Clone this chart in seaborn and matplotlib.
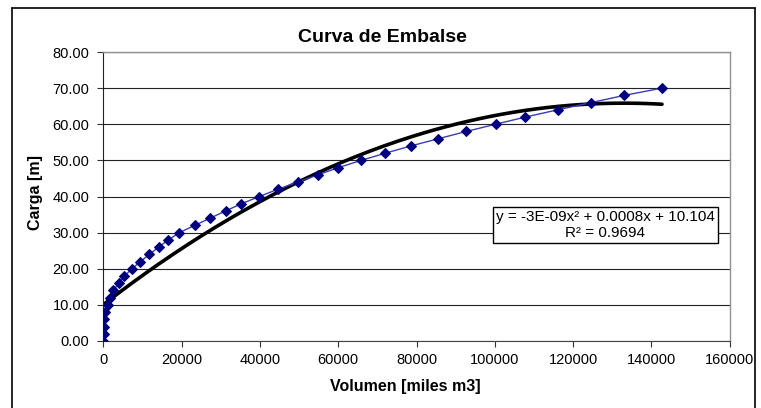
import matplotlib
matplotlib.use('Agg')
import matplotlib.pyplot as plt
import seaborn as sns
import pandas as pd
import numpy as np
from matplotlib.lines import Line2D

# Datos de la curva de embalse
volumen = [0, 50, 120, 250, 450, 1150, 1700, 2550, 3900, 5350, 7300,
           9450, 11750, 14100, 16600, 19400, 23300, 27250, 31200, 35250,
           39850, 44550, 49650, 54800, 60050, 65850, 72050, 78600, 85600,
           92700, 100200, 107850, 116100, 124650, 133150, 142750]
carga = list(range(0, 72, 2))

# Coeficientes de la linea de tendencia (polinomica orden 2)
coef_ajuste = [-3.15e-9, 0.000838, 10.104]

titulo = 'Curva de Embalse'
etiqueta_x = 'Volumen [miles m3]'
etiqueta_y = 'Carga [m]'
texto_ajuste = 'y = -3E-09x\u00b2 + 0.0008x + 10.104\nR\u00b2 = 0.9694'

df = pd.DataFrame({'volumen': volumen, 'carga': carga})
x_aj = np.linspace(0, max(volumen), 200)
df_aj = pd.DataFrame({'volumen': x_aj, 'carga': np.polyval(coef_ajuste, x_aj)})

sns.set_style('white')
plt.rcParams['font.family'] = ['Liberation Sans', 'DejaVu Sans']
plt.rcParams['text.color'] = 'black'
plt.rcParams['axes.labelcolor'] = 'black'
plt.rcParams['xtick.color'] = 'black'
plt.rcParams['ytick.color'] = 'black'

fig = plt.figure(figsize=(7.61, 4.08), dpi=100)
ax = fig.add_axes([103.5 / 761, 1 - 341 / 408, 626 / 761, 289 / 408])

# Datos
sns.lineplot(data=df, x='volumen', y='carga', sort=False, estimator=None,
             color='#3b3bb8', lw=1, marker='D', markersize=5.5,
             markerfacecolor='#00007f', markeredgecolor='#00007f', ax=ax, zorder=3)

# Linea de tendencia
sns.lineplot(data=df_aj, x='volumen', y='carga', sort=False, estimator=None,
             color='black', lw=2.6, ax=ax, zorder=2)

ax.set_xlim(0, 160000)
ax.set_ylim(0, 80)
ax.set_xticks(np.arange(0, 160001, 20000))
ax.set_yticks(np.arange(0, 81, 10))
ax.set_xticklabels([f'{v:d}' for v in range(0, 160001, 20000)])
ax.set_yticklabels([f'{v:.2f}' for v in range(0, 81, 10)])
ax.tick_params(axis='both', labelsize=10.5, length=4, width=0.8, color='#333333',
               direction='out', bottom=True, left=True)
ax.tick_params(axis='x', pad=5)
ax.tick_params(axis='y', pad=6)
ax.yaxis.grid(True, color='#222222', lw=0.8)
ax.xaxis.grid(False)
ax.set_axisbelow(True)

for lado in ['top', 'right']:
    ax.spines[lado].set_color('#909090')
    ax.spines[lado].set_linewidth(1)
ax.spines['left'].set_color('#222222')
ax.spines['bottom'].set_color('#444444')

ax.set_xlabel(etiqueta_x, fontsize=11.5, fontweight='bold')
ax.set_ylabel(etiqueta_y, fontsize=11.5, fontweight='bold')
ax.xaxis.set_label_coords((405 - 103.5) / 626, -(379 - 341) / 289)
ax.yaxis.set_label_coords((43 - 103.5) / 626, (341 - 193) / 289)
fig.text(382 / 761, 1 - 37 / 408, titulo, ha='center', va='center',
         fontsize=14, fontweight='bold')

ax.text(128200, 32.1, texto_ajuste, ha='center', va='center', fontsize=11,
        linespacing=1.1,
        bbox=dict(boxstyle='square,pad=0.2', facecolor='white', edgecolor='black', lw=1))

# Marco exterior del grafico
x0, x1, y0 = 11.5 / 761, 755 / 761, 1 - 8 / 408
for xs, ys in [([x0, x0], [0, y0]), ([x0, x1], [y0, y0]), ([x1, x1], [y0, 0])]:
    fig.add_artist(Line2D(xs, ys, color='black', lw=1.2, transform=fig.transFigure))

fig.savefig('out.png', dpi=100)
